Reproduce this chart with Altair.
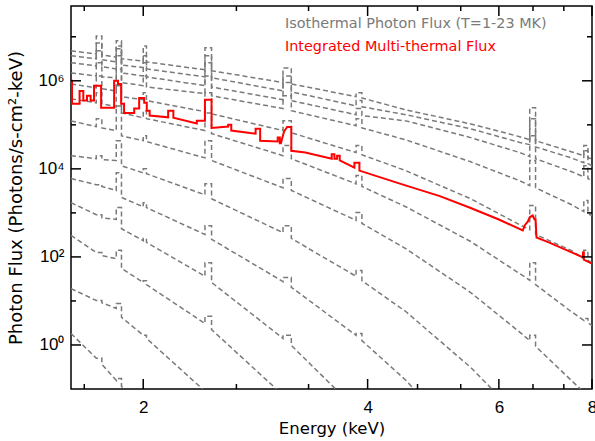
import math
import altair as alt
import pandas as pd

# ---------------- data ----------------
# common energy path (keV) for the isothermal spectra (repeated values = step edges)
iso_energy = [1.60, 1.73, 1.73, 1.76, 1.76, 1.84, 1.84, 1.87, 1.87, 2.00,
              2.00, 2.02, 2.02, 2.42, 2.42, 2.47, 2.47, 3.08, 3.08, 3.16,
              3.16, 3.86, 3.86, 3.93, 3.93, 4.50, 5.50, 6.40, 6.60, 6.60,
              6.72, 6.72, 7.50, 7.80, 7.80, 7.90, 7.90, 8.00]

# log10 photon flux of each isothermal curve (hottest first)
iso_M = [6.68, 6.61, 7.02, 7.02, 6.59, 6.54, 6.91, 6.91, 6.50, 6.45, 6.79, 6.79, 6.43, 6.25, 6.75, 6.75, 6.23, 5.96, 6.29, 6.29,
         5.93, 5.64, 5.73, 5.73, 5.61, 5.34, 5.02, 4.73, 4.66, 5.39, 5.39, 4.64, 4.39, 4.30, 4.53, 4.53, 4.25, 4.23]
iso_L = [6.57, 6.50, 6.86, 6.86, 6.48, 6.43, 6.79, 6.79, 6.36, 6.30, 6.57, 6.57, 6.27, 6.09, 6.57, 6.57, 6.07, 5.77, 6.11, 6.11,
         5.75, 5.43, 5.55, 5.55, 5.41, 5.23, 4.91, 4.60, 4.55, 5.14, 5.14, 4.50, 4.25, 4.14, 4.41, 4.41, 4.12, 4.07]
iso_K = [6.41, 6.34, 6.68, 6.68, 6.32, 6.27, 6.73, 6.73, 6.18, 6.11, 6.41, 6.41, 6.09, 5.89, 6.41, 6.41, 5.86, 5.57, 5.96, 5.96,
         5.55, 5.23, 5.37, 5.37, 5.21, 5.09, 4.71, 4.37, 4.28, 4.75, 4.75, 4.23, 3.94, 3.82, 4.07, 4.07, 3.78, 3.73]
iso_J = [6.18, 6.11, 6.41, 6.41, 6.09, 6.07, 6.57, 6.57, 5.96, 5.89, 6.11, 6.11, 5.86, 5.71, 6.11, 6.11, 5.66, 5.37, 5.66, 5.66,
         5.32, 4.98, 5.14, 5.14, 4.93, 4.66, 4.16, 3.73, 3.62, 4.19, 4.19, 3.57, 3.19, 3.03, 3.28, 3.28, 2.98, 2.94]
iso_I = [5.93, 5.84, 6.11, 6.11, 5.82, 5.77, 6.27, 6.27, 5.64, 5.57, 5.73, 5.73, 5.55, 5.30, 5.73, 5.73, 5.25, 4.87, 5.09, 5.09,
         4.82, 4.37, 4.53, 4.53, 4.32, 3.96, 3.32, 2.73, 2.62, 3.17, 3.17, 2.51, 2.15, 1.96, 2.15, 2.15, 1.92, 1.87]
iso_H = [5.59, 5.50, 5.73, 5.73, 5.48, 5.41, 5.89, 5.89, 5.27, 5.16, 5.32, 5.32, 5.14, 4.87, 5.27, 5.27, 4.80, 4.30, 4.53, 4.53,
         4.23, 3.66, 3.85, 3.85, 3.60, 3.14, 2.35, 1.62, 1.47, 1.87, 1.87, 1.37, 0.76, 0.56, 0.60, 0.60, 0.51, 0.44]
iso_G = [5.09, 4.96, 5.14, 5.14, 4.93, 4.87, 5.43, 5.43, 4.75, 4.64, 4.75, 4.75, 4.62, 4.25, 4.64, 4.64, 4.19, 3.57, 3.78, 3.78,
         3.51, 2.83, 3.01, 3.01, 2.76, 2.19, 1.19, 0.29, 0.10, 0.22, 0.22, -0.03, -0.80, -1.07, -1.07, -1.07, -1.17, -1.26]
iso_F = [4.30, 4.23, 4.30, 4.30, 4.21, 4.19, 4.64, 4.64, 4.07, 3.91, 4.00, 4.00, 3.89, 3.41, 3.66, 3.66, 3.32, 2.55, 2.71, 2.71,
         2.42, 1.56, 1.69, 1.69, 1.46, 0.76, -0.51, -1.64, -1.89, -1.89, -1.89, -2.05, -3.0, -3.5, -3.5, -3.5, -3.5, -3.5]
iso_E = [3.78, 3.64, 3.64, 3.64, 3.60, 3.51, 3.91, 3.91, 3.35, 3.14, 3.23, 3.23, 3.12, 2.51, 2.71, 2.71, 2.40, 1.44, 1.53, 1.53,
         1.31, 0.22, 0.26, 0.26, 0.10, -0.80, -2.39, -3.5, -3.5, -3.5, -3.5, -3.5, -3.5, -3.5, -3.5, -3.5, -3.5, -3.5]
iso_D = [3.23, 2.96, 2.96, 2.96, 2.89, 2.85, 3.12, 3.12, 2.64, 2.37, 2.42, 2.42, 2.33, 1.56, 1.87, 1.87, 1.42, 0.15, 0.22, 0.22,
         -0.01, -1.46, -3.5, -3.5, -3.5, -3.5, -3.5, -3.5, -3.5, -3.5, -3.5, -3.5, -3.5, -3.5, -3.5, -3.5, -3.5, -3.5]
iso_C = [2.49, 2.10, 2.10, 2.10, 2.03, 1.96, 2.15, 2.15, 1.74, 1.42, 1.46, 1.46, 1.37, 0.49, 0.65, 0.65, 0.35, -1.14, -3.5, -3.5,
         -3.5, -3.5, -3.5, -3.5, -3.5, -3.5, -3.5, -3.5, -3.5, -3.5, -3.5, -3.5, -3.5, -3.5, -3.5, -3.5, -3.5, -3.5]
iso_B = [1.28, 1.01, 1.01, 1.01, 0.96, 0.83, 0.94, 0.94, 0.63, 0.22, 0.22, 0.22, 0.15, -1.05, -3.5, -3.5, -3.5, -3.5, -3.5, -3.5,
         -3.5, -3.5, -3.5, -3.5, -3.5, -3.5, -3.5, -3.5, -3.5, -3.5, -3.5, -3.5, -3.5, -3.5, -3.5, -3.5, -3.5, -3.5]
iso_A = [0.26, -0.30, -0.30, -0.30, -0.44, -0.80, -0.76, -0.76, -0.94, -1.50, -3.5, -3.5, -3.5, -3.5, -3.5, -3.5, -3.5, -3.5, -3.5, -3.5,
         -3.5, -3.5, -3.5, -3.5, -3.5, -3.5, -3.5, -3.5, -3.5, -3.5, -3.5, -3.5, -3.5, -3.5, -3.5, -3.5, -3.5, -3.5]

# integrated multi-thermal flux (red), path with step edges
red_energy = [1.600, 1.605, 1.605, 1.643, 1.643, 1.662, 1.662, 1.681, 1.681, 1.700,
              1.700, 1.718, 1.718, 1.756, 1.756, 1.828, 1.828, 1.850, 1.850, 1.868,
              1.868, 1.885, 1.885, 1.945, 1.945, 1.975, 1.975, 2.006, 2.006, 2.022,
              2.022, 2.040, 2.040, 2.160, 2.160, 2.195, 2.195, 2.360, 2.360, 2.420,
              2.420, 2.470, 2.470, 2.600, 2.600, 2.625, 2.625, 2.830, 2.830, 2.870,
              2.870, 3.030, 3.030, 3.050, 3.050, 3.060, 3.090, 3.120, 3.160, 3.160,
              3.300, 3.580, 3.580, 3.610, 3.610, 3.640, 3.640, 3.670, 3.670, 3.840,
              3.840, 3.900, 3.900, 4.430, 5.000, 5.500, 6.000, 6.460, 6.500, 6.560,
              6.600, 6.660, 6.700, 6.720, 6.740, 7.000, 7.500, 7.780, 7.780, 7.800,
              7.800, 8.000]
red_logflux = [6.00, 6.00, 5.48, 5.48, 5.77, 5.77, 5.55, 5.55, 5.66, 5.66,
               5.55, 5.55, 5.89, 5.89, 5.39, 5.39, 6.00, 6.00, 5.93, 5.93,
               5.48, 5.48, 5.27, 5.27, 5.37, 5.37, 5.61, 5.61, 5.50, 5.50,
               5.32, 5.32, 5.21, 5.17, 5.32, 5.32, 5.16, 5.03, 5.09, 5.09,
               5.57, 5.57, 4.93, 4.96, 5.00, 5.00, 4.87, 4.80, 4.91, 4.91,
               4.64, 4.62, 4.71, 4.71, 4.58, 4.58, 4.85, 4.95, 4.95, 4.41,
               4.37, 4.23, 4.33, 4.33, 4.23, 4.23, 4.30, 4.30, 4.19, 4.03,
               4.14, 4.14, 3.96, 3.66, 3.38, 3.11, 2.85, 2.60, 2.72, 2.80,
               2.90, 2.94, 2.85, 2.85, 2.44, 2.33, 2.11, 1.99, 2.10, 2.10,
               1.94, 1.85]

# axis ticks and labels
x_major = [2, 4, 6, 8]
x_minor = [1.667, 2.667, 3.333, 4.667, 5.333, 6.667, 7.333]
y_major = [1, 1e2, 1e4, 1e6]
y_major_labels = ["10⁰", "10²", "10⁴", "10⁶"]
y_minor = [10, 1e3, 1e5, 1e7]

legend_iso = "Isothermal Photon Flux (T=1-23 MK)"
legend_red = "Integrated Multi-thermal Flux"
GRAY = "#7a7a7a"
RED = "#ff0000"

# ---------------- build tables ----------------
iso_curves = [("M", iso_M), ("L", iso_L), ("K", iso_K), ("J", iso_J), ("I", iso_I), ("H", iso_H),
              ("G", iso_G), ("F", iso_F), ("E", iso_E), ("D", iso_D), ("C", iso_C), ("B", iso_B), ("A", iso_A)]
rows = []
for name, vals in iso_curves:
    for i, (e, lf) in enumerate(zip(iso_energy, vals)):
        rows.append({"curve": name, "idx": i, "E": e, "F": 10 ** lf})
gray_df = pd.DataFrame(rows)
red_df = pd.DataFrame({"idx": list(range(len(red_energy))), "E": red_energy,
                       "F": [10 ** v for v in red_logflux]})

W, H = 521, 383
LFONT = "Liberation Sans"
TFONT = "DejaVu Sans"

label_expr = " : ".join(
    f"round(log(datum.value)/LN10) == {round(math.log10(v))} ? '{t}'"
    for v, t in zip(y_major, y_major_labels)) + " : ''"

xscale = alt.Scale(type="log", domain=[1.6, 8], nice=False)
yscale = alt.Scale(type="log", domain=[0.1, 5e7], nice=False)

x_axis = alt.Axis(orient="bottom", values=x_major, format="d", title="Energy (keV)",
                  ticks=False, labelPadding=10, titlePadding=5, labelFlush=False,
                  labelFontSize=17, titleFontSize=16.5, labelFont=LFONT, titleFont=TFONT,
                  labelColor="black", titleColor="black", titleFontWeight="normal",
                  domain=False, grid=False)
y_axis = alt.Axis(orient="left", values=y_major, labelExpr=label_expr,
                  title="Photon Flux (Photons/s-cm²-keV)",
                  ticks=False, labelPadding=7, titlePadding=12,
                  labelFontSize=17, titleFontSize=18, labelFont=LFONT, titleFont=TFONT,
                  labelColor="black", titleColor="black", titleFontWeight="normal",
                  domain=False, grid=False)

gray = alt.Chart(gray_df).mark_line(
    color=GRAY, strokeWidth=1.5, strokeDash=[5, 3], clip=True
).encode(
    x=alt.X("E:Q", scale=xscale, axis=x_axis),
    y=alt.Y("F:Q", scale=yscale, axis=y_axis),
    detail="curve:N",
    order="idx:Q",
)

red = alt.Chart(red_df).mark_line(color=RED, strokeWidth=2, clip=True).encode(
    x=alt.X("E:Q", scale=xscale),
    y=alt.Y("F:Q", scale=yscale),
    order="idx:Q",
)


def xticks(vals, length, top):
    d = pd.DataFrame({"E": vals})
    y1, y2 = (0, length) if top else (H, H - length)
    return alt.Chart(d).mark_rule(color="black", strokeWidth=1.5).encode(
        x=alt.X("E:Q", scale=xscale), y=alt.value(y1), y2=alt.value(y2))


def yticks(vals, length, right):
    d = pd.DataFrame({"F": vals})
    x1, x2 = (W, W - length) if right else (0, length)
    return alt.Chart(d).mark_rule(color="black", strokeWidth=1.5).encode(
        y=alt.Y("F:Q", scale=yscale), x=alt.value(x1), x2=alt.value(x2))


ticks = [xticks(x_major, 10, False), xticks(x_major, 10, True),
         xticks(x_minor, 5, False), xticks(x_minor, 5, True),
         yticks(y_major, 10, False), yticks(y_major, 10, True),
         yticks(y_minor, 5, False), yticks(y_minor, 5, True)]

leg1 = alt.Chart(pd.DataFrame({"t": [legend_iso]})).mark_text(
    align="left", baseline="middle", font=TFONT, fontSize=14.4, color=GRAY
).encode(x=alt.value(214), y=alt.value(18), text="t:N")
leg2 = alt.Chart(pd.DataFrame({"t": [legend_red]})).mark_text(
    align="left", baseline="middle", font=TFONT, fontSize=14.4, color=RED
).encode(x=alt.value(214), y=alt.value(41), text="t:N")

chart = alt.layer(gray, red, *ticks, leg1, leg2).properties(
    width=W, height=H,
    padding={"left": 71, "top": 6, "right": 3, "bottom": 52},
    autosize=alt.AutoSizeParams(type="none"),
).configure_view(stroke="black", strokeWidth=1.5)

chart.save("out.html", embed_options={"renderer": "svg", "actions": False})
